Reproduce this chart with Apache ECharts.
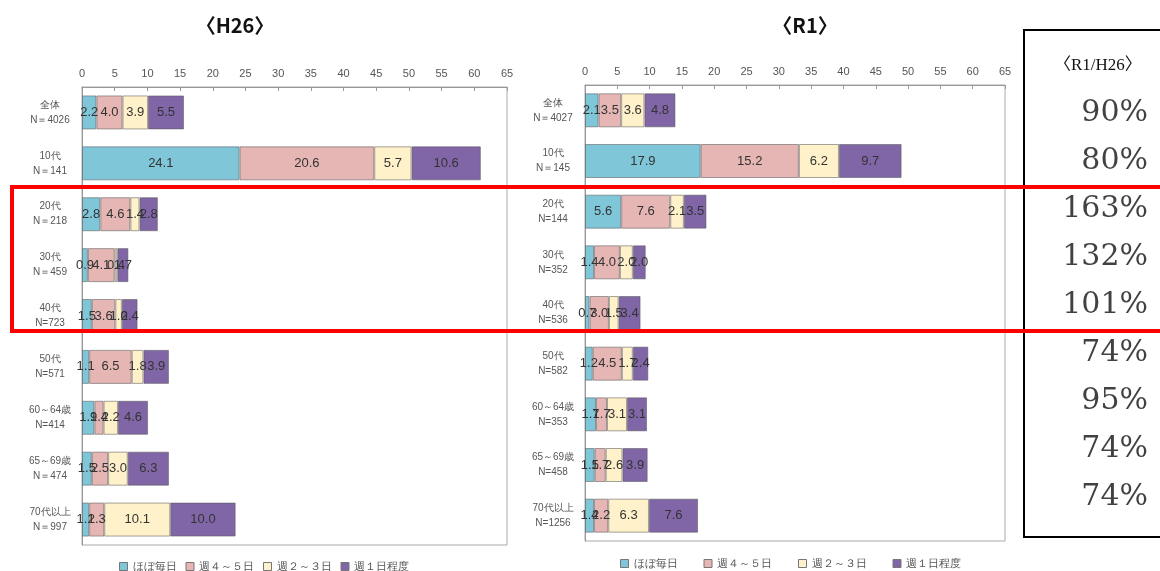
<!DOCTYPE html>
<html>
<head>
<meta charset="utf-8">
<script src="https://cdn.jsdelivr.net/npm/echarts@6/dist/echarts.min.js"></script>
<style>
  html, body { margin: 0; padding: 0; background: #fff; }
  #chart { width: 1160px; height: 571px; }
</style>
</head>
<body>
<div id="chart"></div>
<script>
// 凡例
const seriesNames = ['ほぼ毎日', '週４～５日', '週２～３日', '週１日程度'];
const colors = ['#7fc6d9', '#e6b6b4', '#fff1c9', '#8066a6'];

// H26
const catsH26 = ['全体\nN＝4026', '10代\nN＝141', '20代\nN＝218', '30代\nN＝459', '40代\nN=723',
    '50代\nN=571', '60～64歳\nN=414', '65～69歳\nN＝474', '70代以上\nN＝997'];
const dailyH26 = [2.2, 24.1, 2.8, 0.9, 1.5, 1.1, 1.9, 1.5, 1.1];
const w45H26 = [4.0, 20.6, 4.6, 4.1, 3.6, 6.5, 1.4, 2.5, 2.3];
const w23H26 = [3.9, 5.7, 1.4, 0.4, 1.0, 1.8, 2.2, 3.0, 10.1];
const w1H26 = [5.5, 10.6, 2.8, 1.7, 2.4, 3.9, 4.6, 6.3, 10.0];

// R1
const catsR1 = ['全体\nN＝4027', '10代\nN＝145', '20代\nN=144', '30代\nN=352', '40代\nN=536',
    '50代\nN=582', '60～64歳\nN=353', '65～69歳\nN=458', '70代以上\nN=1256'];
const dailyR1 = [2.1, 17.9, 5.6, 1.4, 0.7, 1.2, 1.7, 1.5, 1.4];
const w45R1 = [3.5, 15.2, 7.6, 4.0, 3.0, 4.5, 1.7, 1.7, 2.2];
const w23R1 = [3.6, 6.2, 2.1, 2.0, 1.5, 1.7, 3.1, 2.6, 6.3];
const w1R1 = [4.8, 9.7, 3.5, 2.0, 3.4, 2.4, 3.1, 3.9, 7.6];

// R1/H26
const ratioHeader = '〈R1/H26〉';
const ratios = [90, 80, 163, 132, 101, 74, 95, 74, 74];

const xTicks = { min: 0, max: 65, interval: 5 };

const chart = echarts.init(document.getElementById('chart'));

function xAxis (gridIndex) {
    return {
        type: 'value',
        gridIndex: gridIndex,
        position: 'top',
        min: xTicks.min,
        max: xTicks.max,
        interval: xTicks.interval,
        axisLine: { show: true, lineStyle: { color: '#999' } },
        axisTick: { show: true, inside: true, length: 4, lineStyle: { color: '#999' } },
        axisLabel: { color: '#555', fontSize: 11, margin: 8 },
        splitLine: { show: false }
    };
}

function yAxis (gridIndex, cats) {
    return {
        type: 'category',
        gridIndex: gridIndex,
        data: cats,
        inverse: true,
        axisLine: { show: true, lineStyle: { color: '#999' } },
        axisTick: { show: false },
        axisLabel: { color: '#555', fontSize: 10, lineHeight: 15, margin: 8, align: 'center', padding: [0, 0, 0, -48] }
    };
}

function bars (idx, arrays, stack) {
    return arrays.map(function (d, i) {
        return {
            name: seriesNames[i],
            type: 'bar',
            stack: stack,
            xAxisIndex: idx,
            yAxisIndex: idx,
            barWidth: 34,
            data: d,
            itemStyle: { color: colors[i], borderColor: 'rgba(90,90,90,0.55)', borderWidth: 1 },
            label: {
                show: true,
                position: 'inside',
                color: '#333',
                fontSize: 13,
                formatter: function (p) { return p.value.toFixed(1); }
            }
        };
    });
}

const legendBase = {
    icon: 'rect',
    itemWidth: 8,
    itemHeight: 8,
    textStyle: { color: '#555', fontSize: 11 },
    data: seriesNames.map(function (n, i) {
        return { name: n, itemStyle: { color: colors[i], borderColor: '#777', borderWidth: 1 } };
    })
};

const option = {
    backgroundColor: '#fff',
    animation: false,
    title: [
        { text: '〈H26〉', left: 230, top: 10, textAlign: 'center',
          textStyle: { fontSize: 20, fontWeight: 'bold', color: '#111', fontFamily: 'Noto Sans CJK JP' } },
        { text: '〈R1〉', left: 800, top: 10, textAlign: 'center',
          textStyle: { fontSize: 20, fontWeight: 'bold', color: '#111', fontFamily: 'Noto Sans CJK JP' } }
    ],
    legend: [
        Object.assign({}, legendBase, { left: 114, top: 556, itemGap: 9 }),
        Object.assign({}, legendBase, { left: 615, top: 553, itemGap: 26 })
    ],
    grid: [
        { left: 82, right: 653, top: 87, bottom: 26, show: true, borderColor: '#aaa', borderWidth: 1 },
        { left: 585, right: 155, top: 85, bottom: 30, show: true, borderColor: '#aaa', borderWidth: 1 },
        { left: 1030, right: 12, top: 89, bottom: 50 }
    ],
    xAxis: [xAxis(0), xAxis(1),
        { type: 'value', gridIndex: 2, min: 0, max: 1, show: false }],
    yAxis: [yAxis(0, catsH26), yAxis(1, catsR1),
        { type: 'category', gridIndex: 2, inverse: true, show: false,
          data: ratios.map(function (r, i) { return i; }) }],
    series: bars(0, [dailyH26, w45H26, w23H26, w1H26], 'h26')
        .concat(bars(1, [dailyR1, w45R1, w23R1, w1R1], 'r1'))
        .concat([{
            type: 'scatter',
            xAxisIndex: 2,
            yAxisIndex: 2,
            symbolSize: 0,
            silent: true,
            data: ratios.map(function (r, i) { return [1, i]; }),
            label: {
                show: true,
                position: 'left',
                distance: 0,
                color: '#111',
                fontSize: 30,
                fontFamily: 'DejaVu Serif',
                formatter: function (p) { return ratios[p.dataIndex] + '%'; }
            }
        }]),
    graphic: [
        // R1/H26 枠
        { type: 'rect', shape: { x: 1024, y: 30, width: 160, height: 507 },
          style: { fill: 'none', stroke: '#000', lineWidth: 2 }, z: 10 },
        { type: 'text', left: 1054, top: 57,
          style: { text: ratioHeader, font: '17px "Liberation Serif", "Noto Sans CJK JP"', fill: '#111' }, z: 10 },
        // 赤枠
        { type: 'rect', shape: { x: 12, y: 187, width: 1170, height: 144 },
          style: { fill: 'none', stroke: '#ff0000', lineWidth: 4 }, z: 20 }
    ]
};

chart.setOption(option);
</script>
</body>
</html>
